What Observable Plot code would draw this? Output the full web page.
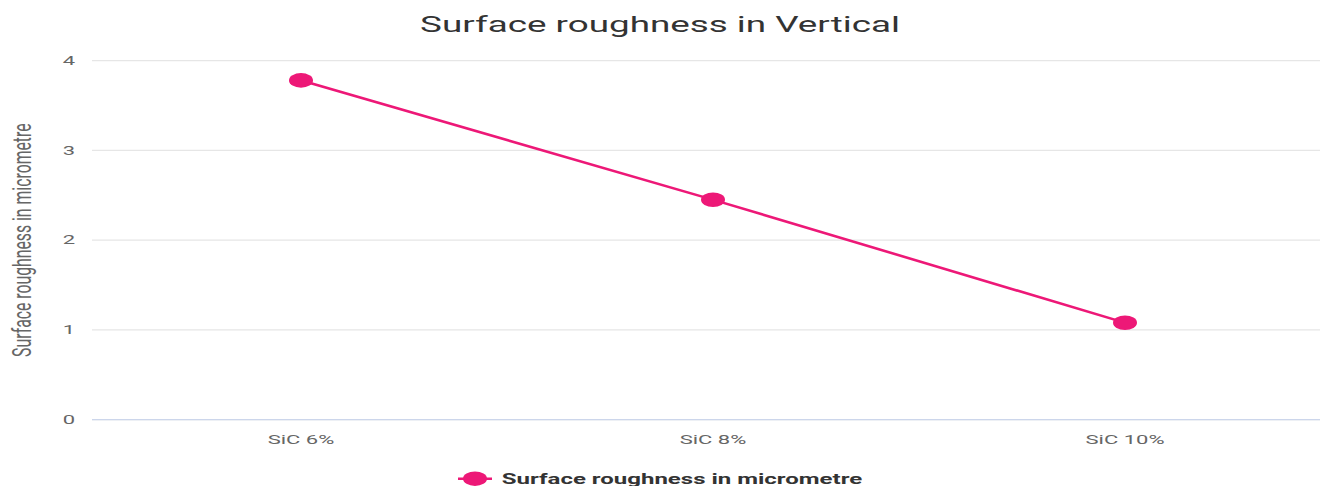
<!DOCTYPE html>
<html><head><meta charset="utf-8">
<script src="https://cdn.jsdelivr.net/npm/d3@7"></script>
<script src="https://cdn.jsdelivr.net/npm/@observablehq/plot@0.6"></script>
<style>
html,body{margin:0;padding:0;background:#fff;overflow:hidden;width:1320px;height:486px}
#stage{width:660px;height:400px;transform:scale(2,1.215);transform-origin:0 0;font-family:Roboto,sans-serif;}
#title{height:40px;line-height:39px;text-align:center;font-size:18.4px;color:#333333;white-space:nowrap;}
#chart svg{display:block;overflow:visible;max-width:none !important}
#legend{height:14px;line-height:14px;margin-top:0.5px;display:flex;justify-content:center;align-items:center;font-size:12px;font-weight:bold;color:#333333;white-space:nowrap;}
#legend span{margin-left:5px}
</style></head><body>
<div id="stage"><div id="title"></div><div id="chart"></div><div id="legend"></div></div>
<script>
const titleText = "Surface roughness in Vertical";
const categories = ["SiC 6%", "SiC 8%", "SiC 10%"];
const values = [3.78, 2.45, 1.08];
const seriesName = "Surface roughness in micrometre";
const yTicks = [0, 1, 2, 3, 4];
const yLabel = "Surface roughness in micrometre";
const color = "#ed1877";

document.getElementById("title").textContent = titleText;

const data = categories.map((c, i) => ({category: c, value: values[i]}));

const chart = Plot.plot({
  width: 665,
  height: 346,
  marginLeft: 46,
  marginRight: 0,
  marginTop: 9.4,
  marginBottom: 41.1,
  style: {fontFamily: "Roboto, sans-serif", fontSize: "11px", color: "#666666", background: "transparent", overflow: "visible", maxWidth: "none"},
  x: {type: "point", domain: categories, padding: 0.5, label: null},
  y: {domain: [0, 4], ticks: yTicks, label: null},
  marks: [
    Plot.gridY(yTicks, {stroke: "#e6e6e6", strokeOpacity: 1}),
    Plot.ruleY([0], {stroke: "#ccd6eb"}),
    Plot.axisY(yTicks, {tickSize: 0, tickPadding: 9, label: null, fontSize: 11, fill: "#666666", tickFormat: d => String(d)}),
    Plot.axisX({tickSize: 0, tickPadding: 12, fontSize: 11, fill: "#666666", label: null}),
    Plot.text([yLabel], {frameAnchor: "left", textAnchor: "middle", rotate: -90, dx: -35, fontSize: 13, fill: "#666666", text: d => d}),
    Plot.line(data, {x: "category", y: "value", stroke: color, strokeWidth: 2}),
    Plot.dot(data, {x: "category", y: "value", r: 6, fill: color, stroke: "none"})
  ]
});
document.getElementById("chart").appendChild(chart);

const legend = document.getElementById("legend");
const ns = "http://www.w3.org/2000/svg";
const sw = document.createElementNS(ns, "svg");
sw.setAttribute("width", 17); sw.setAttribute("height", 14);
const ln = document.createElementNS(ns, "line");
ln.setAttribute("x1", 0); ln.setAttribute("x2", 17); ln.setAttribute("y1", 7); ln.setAttribute("y2", 7);
ln.setAttribute("stroke", color); ln.setAttribute("stroke-width", 2);
const ci = document.createElementNS(ns, "circle");
ci.setAttribute("cx", 8.5); ci.setAttribute("cy", 7); ci.setAttribute("r", 6); ci.setAttribute("fill", color);
sw.appendChild(ln); sw.appendChild(ci);
legend.appendChild(sw);
const sp = document.createElement("span");
sp.textContent = seriesName;
legend.appendChild(sp);
</script>
</body></html>
